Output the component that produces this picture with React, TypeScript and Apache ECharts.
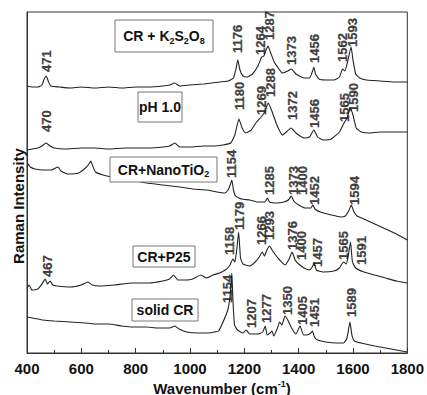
import React, { useEffect, useRef } from "react";
import * as echarts from "echarts";

// Spectra: [wavenumber, intensity (arbitrary units, stacked)]
const traceK2S2O8: number[][] = [
  [400, 267], [420, 266], [440, 266], [455, 268], [462, 273], [471, 277], [478, 272], [488, 267],
  [520, 266], [560, 265], [600, 266], [650, 265], [700, 266], [750, 265], [800, 266], [850, 266],
  [900, 267], [925, 268], [944, 270], [962, 267], [1000, 268], [1050, 269], [1080, 270], [1110, 271],
  [1140, 272], [1160, 275], [1170, 285], [1176, 293], [1184, 283], [1195, 277], [1210, 276], [1230, 279],
  [1250, 287], [1264, 296], [1272, 297], [1280, 303], [1287, 307], [1296, 301], [1310, 291], [1325, 285],
  [1340, 280], [1360, 282], [1373, 284], [1390, 279], [1420, 275], [1440, 275], [1450, 281], [1456, 286],
  [1462, 279], [1475, 274], [1500, 273], [1530, 273], [1550, 276], [1562, 284], [1570, 282], [1580, 291],
  [1593, 306], [1600, 293], [1610, 279], [1625, 275], [1650, 273], [1700, 272], [1750, 271], [1800, 271],
];
const tracePH1: number[][] = [
  [400, 203], [420, 204], [440, 205], [455, 207], [470, 210], [485, 207], [500, 205], [540, 204],
  [600, 205], [650, 205], [700, 204], [760, 205], [800, 205], [850, 205], [900, 206], [925, 207],
  [944, 210], [962, 206], [1000, 206], [1050, 207], [1090, 207], [1120, 208], [1150, 210], [1165, 218],
  [1180, 234], [1192, 225], [1205, 220], [1225, 223], [1245, 231], [1262, 236], [1275, 241], [1288, 250],
  [1300, 243], [1320, 228], [1340, 218], [1355, 221], [1372, 225], [1390, 220], [1420, 215], [1440, 216],
  [1456, 223], [1470, 216], [1490, 213], [1520, 214], [1550, 221], [1565, 229], [1578, 235], [1590, 245],
  [1600, 238], [1612, 225], [1630, 221], [1660, 220], [1700, 221], [1750, 221], [1800, 221],
];
const traceNanoTiO2: number[][] = [
  [400, 186], [405, 189], [412, 186], [430, 184], [460, 183], [490, 183], [505, 185], [514, 186],
  [525, 182], [550, 179], [590, 180], [615, 185], [628, 189], [635, 192], [642, 187], [652, 181],
  [680, 178], [730, 175], [780, 173], [840, 170], [900, 168], [962, 166], [1010, 164], [1062, 163],
  [1100, 161], [1128, 160], [1140, 163], [1148, 168], [1154, 173], [1160, 163], [1168, 157], [1190, 154],
  [1220, 153], [1250, 151], [1275, 151], [1285, 155], [1293, 151], [1320, 150], [1345, 151], [1362, 153],
  [1373, 157], [1382, 152], [1400, 148], [1425, 145], [1445, 145], [1452, 148], [1460, 144], [1480, 141],
  [1520, 138], [1555, 136], [1572, 137], [1584, 142], [1594, 148], [1602, 142], [1615, 137], [1640, 134],
  [1680, 129], [1720, 124], [1760, 119], [1800, 113],
];
const traceP25: number[][] = [
  [400, 65], [408, 68], [418, 63], [440, 64], [455, 69], [467, 74], [475, 69], [485, 72], [495, 68],
  [510, 67], [560, 66], [600, 68], [624, 71], [640, 68], [668, 67], [720, 68], [790, 70], [850, 70],
  [900, 72], [925, 74], [940, 78], [955, 73], [988, 73], [1010, 74], [1040, 78], [1060, 75], [1085, 78],
  [1109, 80], [1130, 83], [1145, 87], [1158, 94], [1165, 91], [1172, 103], [1179, 121], [1186, 95],
  [1195, 89], [1220, 87], [1240, 91], [1255, 96], [1266, 101], [1274, 97], [1283, 103], [1293, 107],
  [1302, 103], [1315, 98], [1330, 93], [1350, 88], [1365, 94], [1376, 101], [1387, 93], [1400, 89],
  [1420, 85], [1440, 83], [1450, 86], [1457, 90], [1465, 83], [1490, 81], [1530, 82], [1550, 85],
  [1565, 91], [1575, 89], [1583, 98], [1591, 111], [1598, 91], [1610, 85], [1640, 81], [1680, 78],
  [1720, 75], [1760, 72], [1800, 70],
];
const traceSolidCR: number[][] = [
  [400, 36], [420, 35], [459, 33], [500, 32], [560, 31], [613, 30], [650, 29], [700, 29], [750, 27],
  [790, 26], [840, 26], [880, 25], [925, 25], [944, 27], [960, 24], [988, 21], [1030, 20], [1070, 20],
  [1090, 21], [1105, 22], [1120, 30], [1139, 43], [1148, 58], [1154, 80], [1158, 53], [1164, 28],
  [1175, 23], [1195, 20], [1207, 23], [1220, 19], [1250, 19], [1268, 21], [1277, 27], [1284, 18],
  [1295, 20], [1302, 22], [1308, 17], [1322, 25], [1330, 31], [1338, 28], [1350, 37], [1360, 33],
  [1374, 25], [1390, 19], [1405, 27], [1418, 18], [1430, 18], [1445, 20], [1451, 22], [1458, 16],
  [1470, 13], [1500, 11], [1540, 10], [1565, 10], [1578, 15], [1589, 31], [1596, 18], [1605, 12],
  [1630, 10], [1680, 7], [1740, 4], [1800, 1],
];

// Peak annotations: [x position, y position, label]
const peaksK2S2O8: (number | string)[][] = [
  [470, 281, "471"], [1175, 300, "1176"], [1258, 298, "1264"], [1293, 313, "1287"],
  [1374, 288, "1373"], [1458, 290, "1456"], [1561, 291, "1562"], [1598, 306, "1593"],
];
const peaksPH1: (number | string)[][] = [
  [470, 221, "470"], [1183, 243, "1180"], [1264, 238, "1269"], [1297, 256, "1288"],
  [1378, 233, "1372"], [1458, 225, "1456"], [1569, 231, "1565"], [1602, 241, "1590"],
];
const peaksNanoTiO2: (number | string)[][] = [
  [1153, 175, "1154"], [1293, 158, "1285"], [1381, 158, "1373"], [1414, 158, "1400"],
  [1458, 148, "1452"], [1605, 148, "1594"],
];
const peaksP25: (number | string)[][] = [
  [477, 76, "467"], [1146, 98, "1158"], [1183, 123, "1179"], [1264, 108, "1266"],
  [1293, 113, "1293"], [1378, 103, "1376"], [1411, 93, "1400"], [1469, 86, "1457"],
  [1565, 93, "1565"], [1631, 88, "1591"],
];
const peaksSolidCR: (number | string)[][] = [
  [1139, 50, "1154"], [1227, 25, "1207"], [1282, 30, "1277"], [1359, 38, "1350"],
  [1414, 28, "1405"], [1458, 26, "1451"], [1594, 36, "1589"],
];

const xTicks = { min: 400, max: 1800, interval: 200 };
const FONT = "Liberation Sans";
const INK = "#111";

const traces = [traceK2S2O8, tracePH1, traceNanoTiO2, traceP25, traceSolidCR];
const peakSets = [peaksK2S2O8, peaksPH1, peaksNanoTiO2, peaksP25, peaksSolidCR];

function boxLabel(x: number, y: number, w: number, h: number, text: string) {
  return {
    type: "group",
    children: [
      {
        type: "rect",
        shape: { x, y, width: w, height: h },
        style: { fill: "#fff", stroke: "#777", lineWidth: 1 },
        z: 10,
      },
      {
        type: "text",
        x: x + w / 2,
        y: y + h / 2,
        z: 11,
        style: {
          text,
          align: "center",
          verticalAlign: "middle",
          fill: INK,
          font: `bold 14px ${FONT}`,
          rich: {
            m: { fontSize: 14, fontWeight: "bold", fontFamily: FONT, fill: INK, lineHeight: 18, verticalAlign: "middle" },
            s: { fontSize: 9, fontWeight: "bold", fontFamily: FONT, fill: INK, lineHeight: 18, verticalAlign: "bottom" },
          },
        },
      },
    ],
  };
}

export default function App() {
  const ref = useRef<HTMLDivElement>(null);
  useEffect(() => {
    if (!ref.current) return;
    const chart = echarts.init(ref.current, null, { renderer: "svg" });
    const series: any[] = [];
    traces.forEach((t) => {
      series.push({
        type: "line",
        data: t,
        showSymbol: false,
        symbol: "none",
        lineStyle: { color: "#222", width: 1.1 },
        smooth: 0.15,
        z: 2,
      });
    });
    peakSets.forEach((p) => {
      series.push({
        type: "scatter",
        data: p,
        symbolSize: 0,
        z: 5,
        label: {
          show: true,
          position: "inside",
          rotate: 90,
          align: "left",
          verticalAlign: "middle",
          formatter: (d: any) => String(d.data[2]),
          fontSize: 13,
          fontWeight: 700,
          fontFamily: FONT,
          color: INK,
          textBorderColor: INK,
          textBorderWidth: 0.3,
        },
      });
    });
    chart.setOption({
      animation: false,
      backgroundColor: "#fff",
      grid: {
        left: 27,
        right: 19,
        top: 12,
        bottom: 42,
        show: true,
        borderColor: "#333",
        borderWidth: 1,
        containLabel: false,
      },
      xAxis: {
        type: "value",
        min: xTicks.min,
        max: xTicks.max,
        interval: xTicks.interval,
        axisLine: { lineStyle: { color: "#333", width: 1 } },
        axisTick: { show: true, inside: true, length: 5, lineStyle: { color: "#333" } },
        minorTick: { show: true, splitNumber: 2, length: 3, lineStyle: { color: "#333" } },
        splitLine: { show: false },
        axisLabel: {
          fontSize: 15,
          fontWeight: "bold",
          fontFamily: FONT,
          color: INK,
          margin: 8,
          formatter: (v: number) => String(v),
        },
      },
      yAxis: {
        type: "value",
        min: 0,
        max: 341,
        axisLine: { show: true, lineStyle: { color: "#333", width: 1 } },
        axisTick: { show: false },
        axisLabel: { show: false },
        splitLine: { show: false },
      },
      graphic: [
        boxLabel(115, 20, 98, 32, "{m|CR + K}{s|2}{m|S}{s|2}{m|O}{s|8}"),
        boxLabel(138, 92, 44, 30, "{m|pH 1.0}"),
        boxLabel(110, 157, 107, 25, "{m|CR+NanoTiO}{s|2}"),
        boxLabel(133, 246, 62, 21, "{m|CR+P25}"),
        boxLabel(132, 299, 66, 22, "{m|solid CR}"),
        {
          type: "text",
          x: 222,
          y: 388,
          style: {
            text: "{m|Wavenumber (cm}{p|-1}{m|)}",
            align: "center",
            verticalAlign: "middle",
            fill: INK,
            rich: {
              m: { fontSize: 15, fontWeight: "bold", fontFamily: FONT, fill: INK, lineHeight: 18, verticalAlign: "middle" },
              p: { fontSize: 9, fontWeight: "bold", fontFamily: FONT, fill: INK, lineHeight: 18, verticalAlign: "top" },
            },
          },
        },
        {
          type: "text",
          x: 18,
          y: 206,
          rotation: Math.PI / 2,
          style: {
            text: "Raman Intensity",
            align: "center",
            verticalAlign: "middle",
            fill: INK,
            font: `bold 15px ${FONT}`,
          },
        },
      ],
      series,
    });
    return () => chart.dispose();
  }, []);
  return (
    <div
      ref={ref}
      style={{ position: "fixed", left: 0, top: 0, width: 427, height: 395 }}
    />
  );
}
